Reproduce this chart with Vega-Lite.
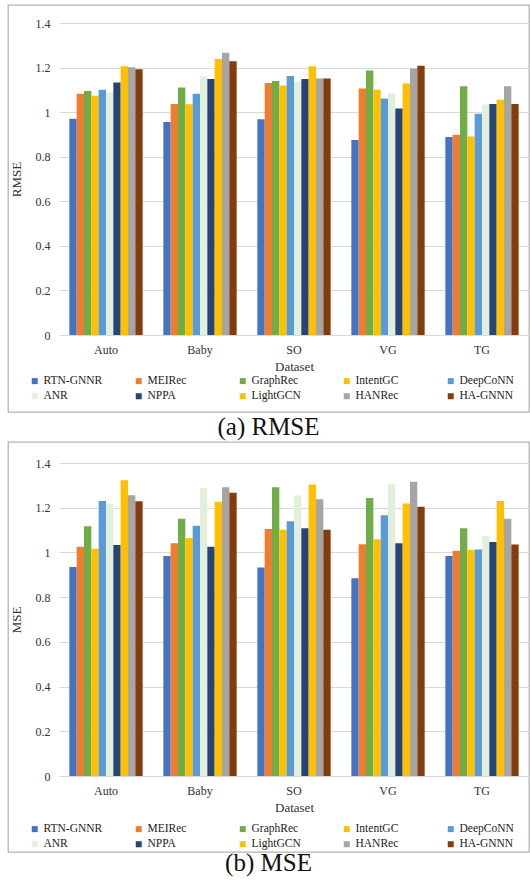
{
  "$schema": "https://vega.github.io/schema/vega-lite/v6.json",
  "padding": {"left": 7, "top": 4, "right": 0, "bottom": 0},
  "background": "white",
  "spacing": 0,
  "datasets": {
    "rmse": [
      {"dataset": "Auto", "model": "RTN-GNNR", "value": 0.970},
      {"dataset": "Auto", "model": "MEIRec", "value": 1.082},
      {"dataset": "Auto", "model": "GraphRec", "value": 1.095},
      {"dataset": "Auto", "model": "IntentGC", "value": 1.074},
      {"dataset": "Auto", "model": "DeepCoNN", "value": 1.100},
      {"dataset": "Auto", "model": "ANR", "value": 1.088},
      {"dataset": "Auto", "model": "NPPA", "value": 1.133},
      {"dataset": "Auto", "model": "LightGCN", "value": 1.206},
      {"dataset": "Auto", "model": "HANRec", "value": 1.201},
      {"dataset": "Auto", "model": "HA-GNNN", "value": 1.192},
      {"dataset": "Baby", "model": "RTN-GNNR", "value": 0.956},
      {"dataset": "Baby", "model": "MEIRec", "value": 1.037},
      {"dataset": "Baby", "model": "GraphRec", "value": 1.111},
      {"dataset": "Baby", "model": "IntentGC", "value": 1.035},
      {"dataset": "Baby", "model": "DeepCoNN", "value": 1.083},
      {"dataset": "Baby", "model": "ANR", "value": 1.161},
      {"dataset": "Baby", "model": "NPPA", "value": 1.149},
      {"dataset": "Baby", "model": "LightGCN", "value": 1.239},
      {"dataset": "Baby", "model": "HANRec", "value": 1.267},
      {"dataset": "Baby", "model": "HA-GNNN", "value": 1.228},
      {"dataset": "SO", "model": "RTN-GNNR", "value": 0.968},
      {"dataset": "SO", "model": "MEIRec", "value": 1.131},
      {"dataset": "SO", "model": "GraphRec", "value": 1.140},
      {"dataset": "SO", "model": "IntentGC", "value": 1.119},
      {"dataset": "SO", "model": "DeepCoNN", "value": 1.162},
      {"dataset": "SO", "model": "ANR", "value": 1.138},
      {"dataset": "SO", "model": "NPPA", "value": 1.149},
      {"dataset": "SO", "model": "LightGCN", "value": 1.206},
      {"dataset": "SO", "model": "HANRec", "value": 1.151},
      {"dataset": "SO", "model": "HA-GNNN", "value": 1.151},
      {"dataset": "VG", "model": "RTN-GNNR", "value": 0.875},
      {"dataset": "VG", "model": "MEIRec", "value": 1.106},
      {"dataset": "VG", "model": "GraphRec", "value": 1.187},
      {"dataset": "VG", "model": "IntentGC", "value": 1.101},
      {"dataset": "VG", "model": "DeepCoNN", "value": 1.061},
      {"dataset": "VG", "model": "ANR", "value": 1.085},
      {"dataset": "VG", "model": "NPPA", "value": 1.016},
      {"dataset": "VG", "model": "LightGCN", "value": 1.128},
      {"dataset": "VG", "model": "HANRec", "value": 1.196},
      {"dataset": "VG", "model": "HA-GNNN", "value": 1.208},
      {"dataset": "TG", "model": "RTN-GNNR", "value": 0.888},
      {"dataset": "TG", "model": "MEIRec", "value": 0.899},
      {"dataset": "TG", "model": "GraphRec", "value": 1.116},
      {"dataset": "TG", "model": "IntentGC", "value": 0.891},
      {"dataset": "TG", "model": "DeepCoNN", "value": 0.993},
      {"dataset": "TG", "model": "ANR", "value": 1.034},
      {"dataset": "TG", "model": "NPPA", "value": 1.037},
      {"dataset": "TG", "model": "LightGCN", "value": 1.056},
      {"dataset": "TG", "model": "HANRec", "value": 1.116},
      {"dataset": "TG", "model": "HA-GNNN", "value": 1.037}
    ],
    "mse": [
      {"dataset": "Auto", "model": "RTN-GNNR", "value": 0.935},
      {"dataset": "Auto", "model": "MEIRec", "value": 1.025},
      {"dataset": "Auto", "model": "GraphRec", "value": 1.117},
      {"dataset": "Auto", "model": "IntentGC", "value": 1.017},
      {"dataset": "Auto", "model": "DeepCoNN", "value": 1.230},
      {"dataset": "Auto", "model": "ANR", "value": 1.218},
      {"dataset": "Auto", "model": "NPPA", "value": 1.033},
      {"dataset": "Auto", "model": "LightGCN", "value": 1.323},
      {"dataset": "Auto", "model": "HANRec", "value": 1.256},
      {"dataset": "Auto", "model": "HA-GNNN", "value": 1.229},
      {"dataset": "Baby", "model": "RTN-GNNR", "value": 0.984},
      {"dataset": "Baby", "model": "MEIRec", "value": 1.041},
      {"dataset": "Baby", "model": "GraphRec", "value": 1.151},
      {"dataset": "Baby", "model": "IntentGC", "value": 1.064},
      {"dataset": "Baby", "model": "DeepCoNN", "value": 1.119},
      {"dataset": "Baby", "model": "ANR", "value": 1.289},
      {"dataset": "Baby", "model": "NPPA", "value": 1.025},
      {"dataset": "Baby", "model": "LightGCN", "value": 1.227},
      {"dataset": "Baby", "model": "HANRec", "value": 1.292},
      {"dataset": "Baby", "model": "HA-GNNN", "value": 1.267},
      {"dataset": "SO", "model": "RTN-GNNR", "value": 0.933},
      {"dataset": "SO", "model": "MEIRec", "value": 1.105},
      {"dataset": "SO", "model": "GraphRec", "value": 1.292},
      {"dataset": "SO", "model": "IntentGC", "value": 1.101},
      {"dataset": "SO", "model": "DeepCoNN", "value": 1.139},
      {"dataset": "SO", "model": "ANR", "value": 1.255},
      {"dataset": "SO", "model": "NPPA", "value": 1.108},
      {"dataset": "SO", "model": "LightGCN", "value": 1.304},
      {"dataset": "SO", "model": "HANRec", "value": 1.238},
      {"dataset": "SO", "model": "HA-GNNN", "value": 1.101},
      {"dataset": "VG", "model": "RTN-GNNR", "value": 0.884},
      {"dataset": "VG", "model": "MEIRec", "value": 1.037},
      {"dataset": "VG", "model": "GraphRec", "value": 1.244},
      {"dataset": "VG", "model": "IntentGC", "value": 1.059},
      {"dataset": "VG", "model": "DeepCoNN", "value": 1.166},
      {"dataset": "VG", "model": "ANR", "value": 1.304},
      {"dataset": "VG", "model": "NPPA", "value": 1.041},
      {"dataset": "VG", "model": "LightGCN", "value": 1.219},
      {"dataset": "VG", "model": "HANRec", "value": 1.316},
      {"dataset": "VG", "model": "HA-GNNN", "value": 1.204},
      {"dataset": "TG", "model": "RTN-GNNR", "value": 0.984},
      {"dataset": "TG", "model": "MEIRec", "value": 1.008},
      {"dataset": "TG", "model": "GraphRec", "value": 1.108},
      {"dataset": "TG", "model": "IntentGC", "value": 1.012},
      {"dataset": "TG", "model": "DeepCoNN", "value": 1.013},
      {"dataset": "TG", "model": "ANR", "value": 1.072},
      {"dataset": "TG", "model": "NPPA", "value": 1.047},
      {"dataset": "TG", "model": "LightGCN", "value": 1.230},
      {"dataset": "TG", "model": "HANRec", "value": 1.151},
      {"dataset": "TG", "model": "HA-GNNN", "value": 1.036}
    ]
  },
  "vconcat": [
    {
      "width": 521,
      "height": 407,
      "data": {"name": "rmse"},
      "title": {"text": "(a) RMSE", "orient": "bottom", "offset": 3},
      "mark": {"type": "bar"},
      "encoding": {
        "x": {
          "field": "dataset", "type": "nominal",
          "sort": ["Auto", "Baby", "SO", "VG", "TG"],
          "scale": {"range": [51, 521], "paddingInner": 0.22, "paddingOuter": 0.11},
          "axis": {"title": "Dataset", "offset": -77}
        },
        "xOffset": {
          "field": "model", "type": "nominal",
          "sort": ["RTN-GNNR", "MEIRec", "GraphRec", "IntentGC", "DeepCoNN", "ANR", "NPPA", "LightGCN", "HANRec", "HA-GNNN"],
          "scale": {"paddingInner": 0, "paddingOuter": 0}
        },
        "y": {
          "field": "value", "type": "quantitative",
          "scale": {"domain": [0, 1.4], "range": [330, 18], "nice": false, "zero": true},
          "axis": {"title": "RMSE", "values": [0, 0.2, 0.4, 0.6, 0.8, 1, 1.2, 1.4], "format": "~g", "offset": -50}
        },
        "color": {
          "field": "model", "type": "nominal",
          "scale": {
            "domain": ["RTN-GNNR", "MEIRec", "GraphRec", "IntentGC", "DeepCoNN", "ANR", "NPPA", "LightGCN", "HANRec", "HA-GNNN"],
            "range": ["#4472C4", "#ED7D31", "#70AD47", "#FFC000", "#5B9BD5", "#E2EFDA", "#264478", "#FFC000", "#A5A5A5", "#843C0C"]
          },
          "legend": {"orient": "none", "legendX": 21, "legendY": 370}
        }
      }
    },
    {
      "width": 521,
      "height": 410,
      "data": {"name": "mse"},
      "title": {"text": "(b) MSE", "orient": "bottom", "offset": -1},
      "mark": {"type": "bar"},
      "encoding": {
        "x": {
          "field": "dataset", "type": "nominal",
          "sort": ["Auto", "Baby", "SO", "VG", "TG"],
          "scale": {"range": [51, 521], "paddingInner": 0.22, "paddingOuter": 0.11},
          "axis": {"title": "Dataset", "offset": -76}
        },
        "xOffset": {
          "field": "model", "type": "nominal",
          "sort": ["RTN-GNNR", "MEIRec", "GraphRec", "IntentGC", "DeepCoNN", "ANR", "NPPA", "LightGCN", "HANRec", "HA-GNNN"],
          "scale": {"paddingInner": 0, "paddingOuter": 0}
        },
        "y": {
          "field": "value", "type": "quantitative",
          "scale": {"domain": [0, 1.4], "range": [334, 21], "nice": false, "zero": true},
          "axis": {"title": "MSE", "values": [0, 0.2, 0.4, 0.6, 0.8, 1, 1.2, 1.4], "format": "~g", "offset": -50}
        },
        "color": {
          "field": "model", "type": "nominal",
          "scale": {
            "domain": ["RTN-GNNR", "MEIRec", "GraphRec", "IntentGC", "DeepCoNN", "ANR", "NPPA", "LightGCN", "HANRec", "HA-GNNN"],
            "range": ["#4472C4", "#ED7D31", "#70AD47", "#FFC000", "#5B9BD5", "#E2EFDA", "#264478", "#FFC000", "#A5A5A5", "#843C0C"]
          },
          "legend": {"orient": "none", "legendX": 21, "legendY": 381}
        }
      }
    }
  ],
  "resolve": {"scale": {"color": "independent", "x": "independent", "y": "independent"}, "legend": {"color": "independent"}},
  "config": {
    "font": "Times New Roman, Liberation Serif, DejaVu Serif, serif",
    "view": {"stroke": "#B4B4B4", "strokeWidth": 1.3},
    "title": {"font": "Times New Roman, Liberation Serif, DejaVu Serif, serif", "fontSize": 25, "fontWeight": "normal", "color": "#111111", "anchor": "middle"},
    "axis": {
      "labelFont": "Times New Roman, Liberation Serif, DejaVu Serif, serif", "labelFontSize": 12, "labelColor": "#333333",
      "titleFont": "Times New Roman, Liberation Serif, DejaVu Serif, serif", "titleFontSize": 13, "titleFontWeight": "normal", "titleColor": "#333333",
      "ticks": false, "tickSize": 0, "gridColor": "#D9D9D9", "gridWidth": 1
    },
    "axisX": {"grid": false, "domain": true, "domainColor": "#D9D9D9", "domainWidth": 1, "labelPadding": 9, "labelAngle": 0, "titlePadding": 5},
    "axisY": {"grid": true, "domain": false, "labelPadding": 8, "titlePadding": 12},
    "legend": {
      "title": null, "columns": 5, "direction": "horizontal", "gridAlign": "all",
      "symbolType": "square", "symbolSize": 36, "symbolStrokeWidth": 0,
      "labelFont": "Times New Roman, Liberation Serif, DejaVu Serif, serif", "labelFontSize": 11.5, "labelColor": "#222222",
      "labelOffset": 3, "columnPadding": 30, "rowPadding": 2.5, "labelLimit": 200
    }
  }
}
